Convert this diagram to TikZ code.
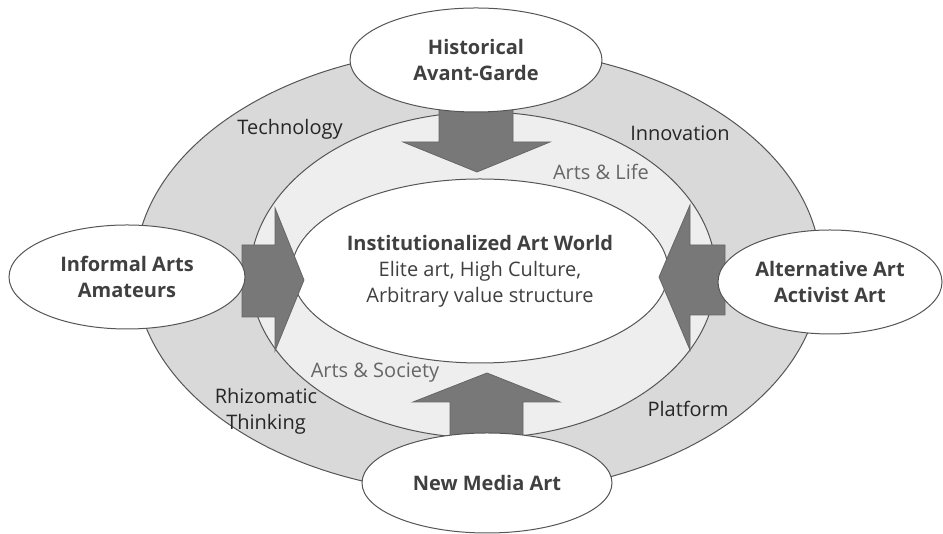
\documentclass[tikz,border=0pt]{standalone}
\usepackage{fontspec}
\setmainfont{Open Sans}
\usetikzlibrary{shapes.geometric}

\definecolor{ringdark}{RGB}{217,217,217}
\definecolor{ringlight}{RGB}{238,238,238}
\definecolor{arrowgray}{RGB}{120,120,120}
\definecolor{linegray}{RGB}{85,85,85}
\definecolor{textgray}{RGB}{64,64,64}

\tikzset{
    ring/.style={draw=linegray, line width=1pt},
    field/.style={ellipse, draw=linegray, line width=1pt, fill=white, inner sep=0pt, align=center},
    actor/.style={field, text=textgray, font=\fontsize{20}{26}\selectfont\bfseries},
    theme/.style={align=center, text=black!85, font=\fontsize{20}{26}\selectfont},
    bridge/.style={theme, text=black!60},
    blockarrow/.style={fill=arrowgray, draw=black!60, line width=0.8pt, line join=miter},
}

\begin{document}
\begin{tikzpicture}[x=1pt, y=1pt]
    \useasboundingbox (0,0) rectangle (943,534);

    % the two rings
    \draw[ring, fill=ringdark] (478,263) ellipse [x radius=343, y radius=223];
    \draw[ring, fill=ringlight] (483,259) ellipse [x radius=233, y radius=163];

    \node[field, minimum width=334, minimum height=184, text=textgray,
          font=\fontsize{20}{26}\selectfont] (world) at (480,263)
        {{\bfseries Institutionalized Art World}\\ Elite art, High Culture,\\ Arbitrary value structure};

    % arrows into the centre
    \draw[blockarrow] (439,425) -- (439,392) -- (403,392) -- (477,362) -- (550,392) -- (513,392) -- (513,425) -- cycle;
    \draw[blockarrow] (450,96) -- (450,132) -- (413,132) -- (487,161) -- (560,132) -- (523,132) -- (523,96) -- cycle;
    \draw[blockarrow] (242,289) -- (275,289) -- (275,326) -- (304,254) -- (275,183) -- (275,217) -- (242,217) -- cycle;
    \draw[blockarrow] (725,289) -- (690,289) -- (690,329) -- (659,257) -- (690,184) -- (690,219) -- (725,219) -- cycle;

    % outer actors
    \node[actor, minimum width=252, minimum height=104] (avantgarde) at (476,474) {Historical\\Avant-Garde};
    \node[actor, minimum width=236, minimum height=104] (informal) at (127,257) {Informal Arts\\Amateurs};
    \node[actor, minimum width=224, minimum height=104] (activist) at (830,252) {Alternative Art\\Activist Art};
    \node[actor, minimum width=250, minimum height=100] (newmedia) at (487,51) {New Media Art};

    % ring labels
    \node[theme] (technology) at (290,405) {Technology};
    \node[theme] (innovation) at (680,401) {Innovation};
    \node[theme] (rhizome) at (266,123) {Rhizomatic\\Thinking};
    \node[theme] (platform) at (688,125) {Platform};
    \node[bridge] (life) at (601,362) {Arts \& Life};
    \node[bridge] (society) at (375,161) {Arts \& Society};
\end{tikzpicture}
\end{document}
